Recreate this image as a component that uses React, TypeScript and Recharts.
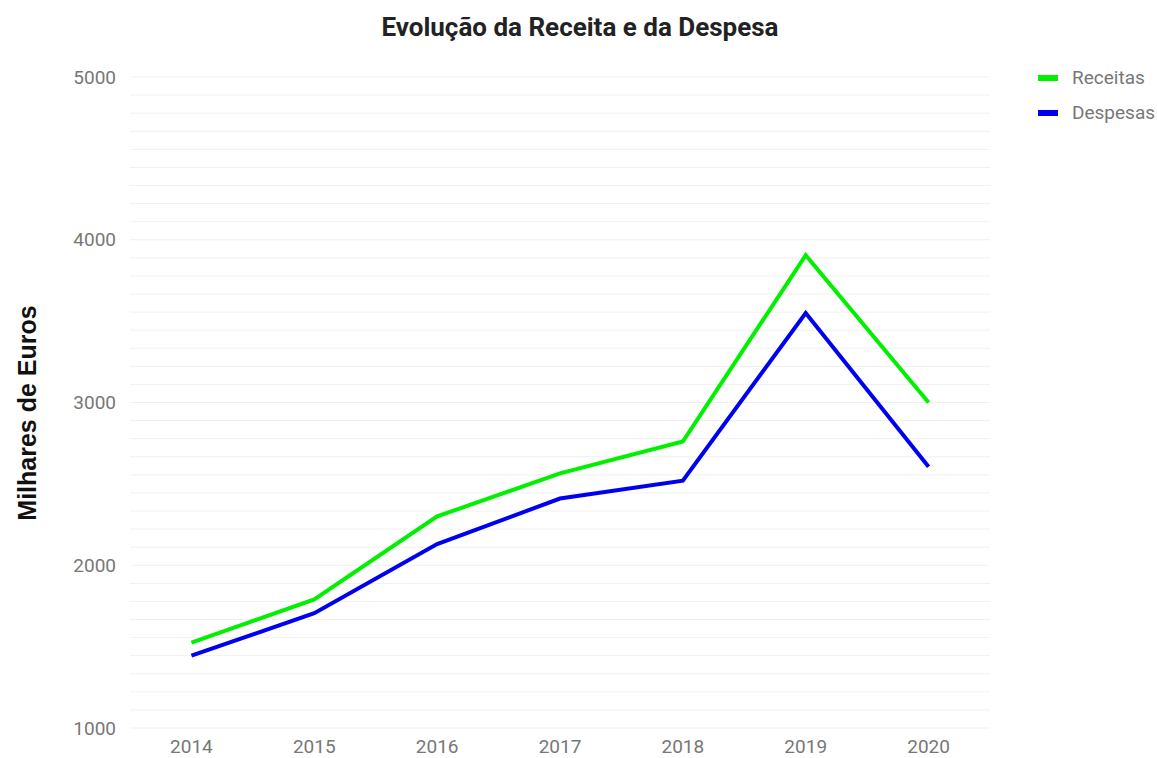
import React from 'react';
import { LineChart, Line, XAxis, YAxis, CartesianGrid } from 'recharts';

const years = [2014, 2015, 2016, 2017, 2018, 2019, 2020];
const receitas = [1525, 1790, 2300, 2565, 2760, 3905, 3000];
const despesas = [1445, 1705, 2130, 2410, 2520, 3550, 2605];
const yTicks = [1000, 2000, 3000, 4000, 5000];
const seriesNames = ['Receitas', 'Despesas'];
const seriesColors = ['#00f000', '#0000f0'];

const data = years.map((year, i) => ({ year, receitas: receitas[i], despesas: despesas[i] }));

const Y_MIN = 1000;
const Y_MAX = 5000;
const SUBDIV = 9; // light gridlines between each labelled tick

const FONT = 'Roboto, sans-serif';

function gridLines({ offset }: any) {
  const out: number[] = [];
  const n = ((Y_MAX - Y_MIN) / 1000) * SUBDIV;
  for (let i = 0; i <= n; i++) out.push(offset.top + (offset.height * i) / n);
  return out;
}

export default function App() {
  return (
    <div style={{ position: 'fixed', top: 0, left: 0, width: 1157, height: 758, background: '#fff' }}>
      <div style={{ position: 'absolute', top: 12, left: 0, width: 1160, textAlign: 'center', fontFamily: FONT, fontWeight: 700, fontSize: 26, color: '#222' }}>
        Evolução da Receita e da Despesa
      </div>
      <div style={{ position: 'absolute', left: 27, top: 413, transform: 'translate(-50%, -50%) rotate(-90deg)', whiteSpace: 'nowrap', fontFamily: '"Liberation Sans", Arial, sans-serif', fontWeight: 700, fontSize: 25, color: '#111' }}>
        Milhares de Euros
      </div>
      <div style={{ position: 'absolute', top: 60, left: 1038, whiteSpace: 'nowrap', fontFamily: FONT, fontSize: 19, color: '#777' }}>
        {seriesNames.map((name, i) => (
          <div key={name} style={{ display: 'flex', alignItems: 'center', height: 35 }}>
            <span style={{ display: 'inline-block', width: 20, height: 6, background: seriesColors[i], marginRight: 14, flexShrink: 0 }} />
            {name}
          </div>
        ))}
      </div>
      <LineChart width={1157} height={758} data={data} margin={{ top: 77, right: 167, bottom: 0, left: 0 }}>
        <CartesianGrid vertical={false} stroke="#f0f0f0" horizontalCoordinatesGenerator={gridLines} />
        <XAxis
          dataKey="year"
          type="number"
          domain={[2013.5, 2020.5]}
          ticks={years}
          height={30}
          axisLine={false}
          tickLine={false}
          tickMargin={6}
          tick={{ fill: '#777', fontSize: 19, fontFamily: FONT }}
        />
        <YAxis
          domain={[Y_MIN, Y_MAX]}
          ticks={yTicks}
          width={130}
          axisLine={false}
          tickLine={false}
          tickMargin={8}
          tick={{ fill: '#777', fontSize: 19, fontFamily: FONT }}
        />
        <Line dataKey="receitas" name="Receitas" stroke={seriesColors[0]} strokeWidth={4} dot={false} isAnimationActive={false} />
        <Line dataKey="despesas" name="Despesas" stroke={seriesColors[1]} strokeWidth={4} dot={false} isAnimationActive={false} />
      </LineChart>
    </div>
  );
}
